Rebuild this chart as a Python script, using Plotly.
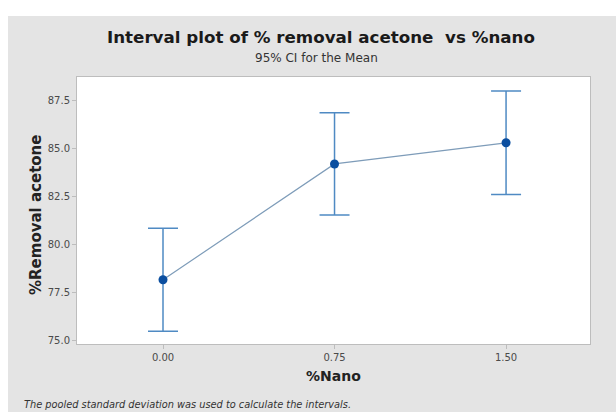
import plotly.graph_objects as go

# Group levels and interval estimates (95% CI for the mean, pooled SD)
nano_levels = [0.00, 0.75, 1.50]
mean_removal = [78.18, 84.20, 85.30]
ci_half_width = [2.68, 2.66, 2.69]
y_ticks = [75.0, 77.5, 80.0, 82.5, 85.0, 87.5]
x_ticks = [0.00, 0.75, 1.50]

W, H = 616, 412
L, R, T, B = 77, 26, 77, 68
PW, PH = W - L - R, H - T - B


def px_x(px):
    return (px - L) / PW


def px_y(py):
    return (H - B - py) / PH


BG = "#E4E4E4"
FONT = "DejaVu Sans"

fig = go.Figure()
fig.add_trace(go.Scatter(
    x=nano_levels,
    y=mean_removal,
    mode="lines",
    line=dict(color="#7E9CB9", width=1.2),
    hoverinfo="skip",
    showlegend=False,
))
fig.add_trace(go.Scatter(
    x=nano_levels,
    y=mean_removal,
    mode="markers",
    marker=dict(color="#0B4FA0", size=9),
    error_y=dict(type="data", array=ci_half_width, visible=True,
                 color="#4F8AC3", thickness=1.5, width=15),
    showlegend=False,
))

axis_common = dict(
    showgrid=False, zeroline=False,
    showline=True, linecolor="#BDBDBD", linewidth=1, mirror=True,
    ticks="outside", ticklen=4, tickcolor="#BDBDBD",
    tickfont=dict(family=FONT, size=10, color="#4A4A4A"),
)

fig.update_layout(
    width=W, height=H,
    margin=dict(l=L, r=R, t=T, b=B),
    paper_bgcolor=BG,
    plot_bgcolor="white",
    xaxis=dict(range=[-0.376, 1.867], tickvals=x_ticks,
               ticktext=[f"{v:.2f}" for v in x_ticks], **axis_common),
    yaxis=dict(range=[74.84, 88.72], tickvals=y_ticks,
               ticktext=[f"{v:.1f}" for v in y_ticks], **axis_common),
    shapes=[
        # light strips along the top and left edges
        dict(type="rect", xref="paper", yref="paper",
             x0=px_x(0), x1=px_x(W), y0=px_y(16), y1=px_y(0),
             fillcolor="white", line=dict(width=0), layer="below"),
        dict(type="rect", xref="paper", yref="paper",
             x0=px_x(0), x1=px_x(8), y0=px_y(H), y1=px_y(0),
             fillcolor="white", line=dict(width=0), layer="below"),
    ],
    annotations=[
        dict(text="<b>Interval plot of % removal acetone  vs %nano</b>",
             x=px_x(321), y=px_y(37), xref="paper", yref="paper",
             showarrow=False, xanchor="center", yanchor="middle",
             font=dict(family=FONT, size=16.7, color="#1A1A1A")),
        dict(text="95% CI for the Mean",
             x=px_x(316), y=px_y(58), xref="paper", yref="paper",
             showarrow=False, xanchor="center", yanchor="middle",
             font=dict(family=FONT, size=12, color="#333333")),
        dict(text="<b>%Nano</b>",
             x=px_x(333), y=px_y(376), xref="paper", yref="paper",
             showarrow=False, xanchor="center", yanchor="middle",
             font=dict(family=FONT, size=14, color="#222222")),
        dict(text="<b>%Removal acetone</b>",
             x=px_x(36), y=px_y(215), xref="paper", yref="paper",
             showarrow=False, xanchor="center", yanchor="middle", textangle=-90,
             font=dict(family=FONT, size=15, color="#222222")),
        dict(text="<i>The pooled standard deviation was used to calculate the intervals.</i>",
             x=px_x(22), y=px_y(404), xref="paper", yref="paper",
             showarrow=False, xanchor="left", yanchor="middle",
             font=dict(family=FONT, size=9.8, color="#333333")),
    ],
)

fig.write_html("out.html")
